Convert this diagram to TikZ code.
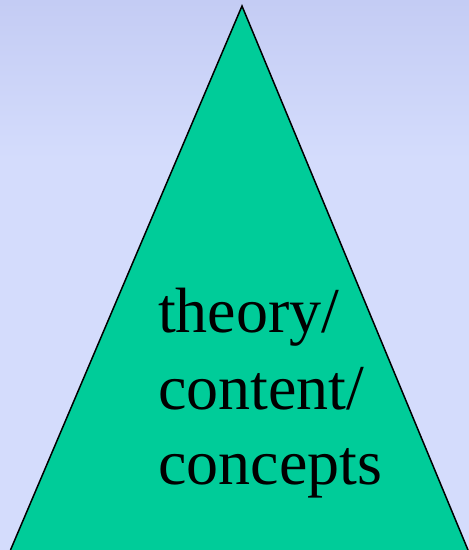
\documentclass[tikz,border=0pt]{standalone}
\usepackage{fontspec}
\setmainfont{Liberation Serif}
\definecolor{bgtop}{RGB}{196,204,244}
\definecolor{bgbot}{RGB}{212,220,252}
\definecolor{tri}{RGB}{0,204,153}
\tikzset{lbl/.style={anchor=base west,inner sep=0pt,font=\fontsize{64}{76}\selectfont,text=black}}
\begin{document}
\begin{tikzpicture}[x=1pt,y=1pt]
\useasboundingbox (0,0) rectangle (469,550);
\fill[bgbot] (0,0) rectangle (469,550);
\shade[top color=bgtop,bottom color=bgbot] (0,390) rectangle (469,550);
\coordinate (apex) at (242,544);
\coordinate (bl) at (10.5,0);
\coordinate (br) at (468,0);
\fill[tri] (bl) -- (apex) -- (br) -- cycle;
\draw[line width=1.5pt,line join=miter] (bl) -- (apex) -- (br);
\node[lbl] (t1) at (158,217) {theory/};
\node[lbl] (t2) at (158,140) {content/};
\node[lbl] (t3) at (158,65) {concepts};
\end{tikzpicture}
\end{document}
